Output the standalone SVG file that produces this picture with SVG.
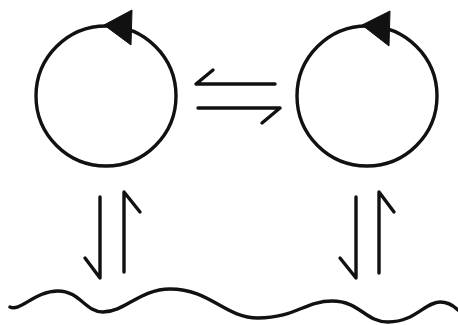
<svg xmlns="http://www.w3.org/2000/svg" width="458" height="325" viewBox="0 0 458 325">
<style>
.ln{fill:none;stroke:#111;stroke-width:3.4;stroke-linecap:round;stroke-linejoin:round}
.hd{fill:#111;stroke:#111;stroke-width:1;stroke-linejoin:round}
</style>
<rect width="458" height="325" fill="#fff"/>
<g id="node-left">
<circle class="ln" cx="106" cy="96" r="70"/>
<polygon class="hd" points="104,25 132,10 131,45"/>
</g>
<g id="node-right">
<circle class="ln" cx="367" cy="96" r="70"/>
<polygon class="hd" points="362,25 390,11 389,46"/>
</g>
<g id="node-surface">
<path class="ln" d="M10,307 C20,312 35,291 58,291 C80,291 85,312 103,312 C125,312 140,289 170,289 C210,289 225,318 258,318 C295,318 305,301 332,301 C360,301 365,322 388,322 C415,322 425,302 440,302 C450,302 455,307 458,310"/>
</g>
<g id="connectors">
<path class="ln" d="M275,84 H196 L213,70"/>
<path class="ln" d="M198,108 H280 L262,123"/>
<path class="ln" d="M100,197 V278 L85,258"/>
<path class="ln" d="M124,272 V192 L140,212"/>
<path class="ln" d="M356,197 V278 L340,258"/>
<path class="ln" d="M379,273 V192 L394,212"/>
</g>
</svg>
